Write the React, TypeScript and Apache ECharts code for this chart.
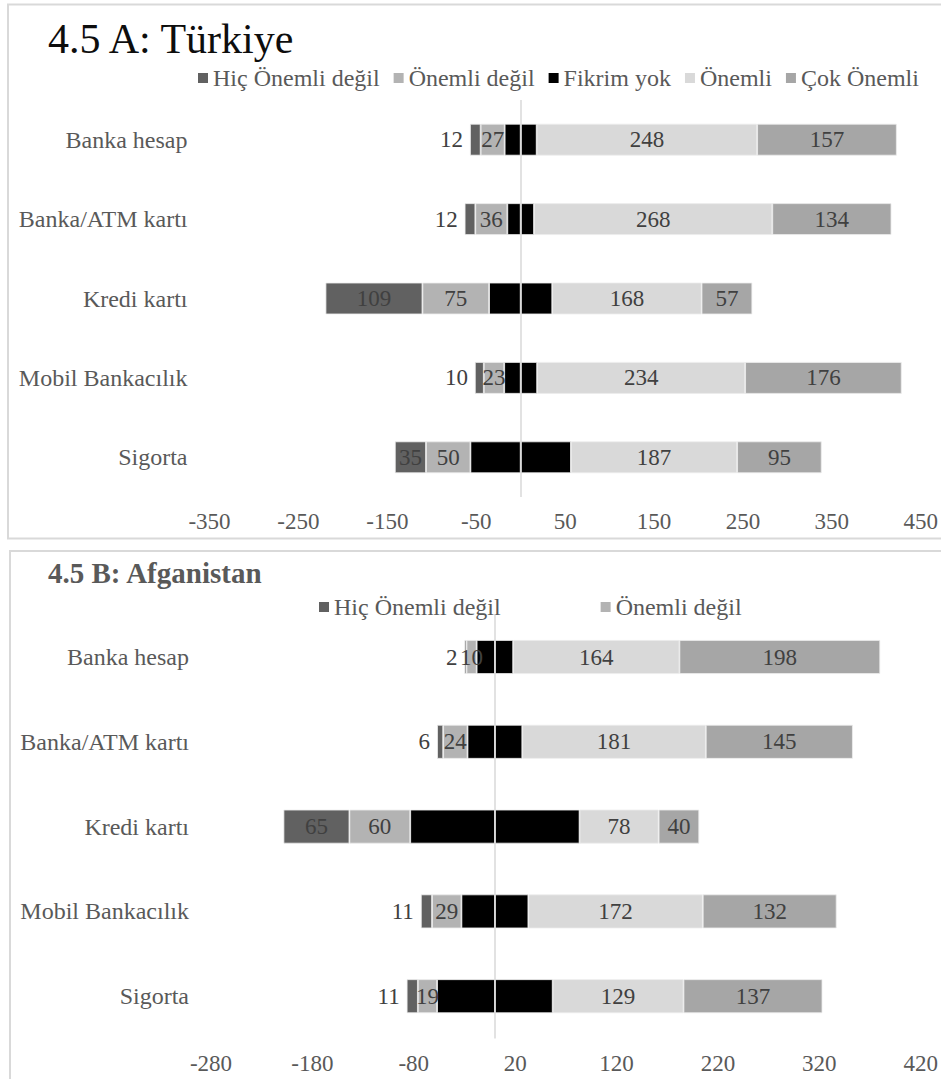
import React, { useEffect, useRef } from "react";
import * as echarts from "echarts";

const categories = ["Banka hesap", "Banka/ATM kartı", "Kredi kartı", "Mobil Bankacılık", "Sigorta"];
const seriesNames = ["Hiç Önemli değil", "Önemli değil", "Fikrim yok", "Önemli", "Çok Önemli"];

// 4.5 A: Türkiye
const trHic = [12, 12, 109, 10, 35];
const trOnemliDegil = [27, 36, 75, 23, 50];
const trFikrimYok = [36, 30, 71, 37, 113];
const trOnemli = [248, 268, 168, 234, 187];
const trCokOnemli = [157, 134, 57, 176, 95];

// 4.5 B: Afganistan
const afHic = [2, 6, 65, 11, 11];
const afOnemliDegil = [10, 24, 60, 29, 19];
const afFikrimYok = [36, 54, 167, 66, 114];
const afOnemli = [164, 181, 78, 172, 129];
const afCokOnemli = [198, 145, 40, 132, 137];

const ticksA = [-350, -250, -150, -50, 50, 150, 250, 350, 450];
const ticksB = [-280, -180, -80, 20, 120, 220, 320, 420];

const COLORS = {
  hic: "#616161",
  od: "#b3b3b3",
  fy: "#000000",
  o: "#d9d9d9",
  co: "#a6a6a6",
};

const FONT = "Liberation Serif";
const txt = (size: number, color: string, weight: string = "normal") => ({
  fontSize: size,
  color,
  fontFamily: FONT,
  fontWeight: weight,
  fontStyle: "normal",
});

const labelBase = {
  show: true,
  position: "inside",
  ...txt(23, "#404040"),
  formatter: (p: any) => String(Math.abs(p.value)),
};

const barBorder = { borderColor: "#ececec", borderWidth: 0.8 };

function buildSeries(idx: number, hic: number[], od: number[], fy: number[], o: number[], co: number[]) {
  const common = {
    type: "bar",
    stack: "s" + idx,
    xAxisIndex: idx,
    yAxisIndex: idx,
    barWidth: "40%",
  };
  return [
    {
      ...common,
      name: "Fikrim yok",
      itemStyle: { color: COLORS.fy, ...barBorder },
      data: fy.map((v) => -v / 2),
      label: { show: false },
    },
    {
      ...common,
      name: "Fikrim yok",
      itemStyle: { color: COLORS.fy, ...barBorder },
      data: fy.map((v) => v / 2),
      label: { show: false },
      markLine: {
        silent: true,
        symbol: "none",
        label: { show: false },
        lineStyle: { color: "#d9d9d9", width: 1.5, type: "solid" },
        data: [{ xAxis: 0 }],
      },
    },
    {
      ...common,
      name: "Önemli değil",
      itemStyle: { color: COLORS.od, ...barBorder },
      data: od.map((v) => -v),
      label: labelBase,
    },
    {
      ...common,
      name: "Önemli",
      itemStyle: { color: COLORS.o, ...barBorder },
      data: o,
      label: labelBase,
    },
    {
      ...common,
      name: "Hiç Önemli değil",
      itemStyle: { color: COLORS.hic, ...barBorder },
      data: hic.map((v) => (v < 20 ? { value: -v, label: { position: "left", distance: 7 } } : -v)),
      label: labelBase,
    },
    {
      ...common,
      name: "Çok Önemli",
      itemStyle: { color: COLORS.co, ...barBorder },
      data: co,
      label: labelBase,
    },
  ];
}

export default function App() {
  const ref = useRef<HTMLDivElement>(null);
  useEffect(() => {
    if (!ref.current) return;
    const chart = echarts.init(ref.current, null, { renderer: "svg" });
    const xAxisCommon = {
      type: "value",
      interval: 100,
      splitLine: { show: false },
      axisLine: { show: false },
      axisTick: { show: false },
    };
    const yAxisCommon = {
      type: "category",
      data: categories,
      inverse: true,
      axisLine: { show: false, onZero: false },
      axisTick: { show: false },
      axisLabel: { ...txt(24, "#595959"), margin: 22 },
    };
    const legendCommon = {
      icon: "rect",
      itemWidth: 10,
      itemHeight: 10,
      itemStyle: { borderWidth: 0 },
      textStyle: txt(24, "#595959"),
    };
    chart.setOption({
      animation: false,
      textStyle: { fontFamily: FONT, fontWeight: "normal" },
      color: [COLORS.hic, COLORS.od, COLORS.fy, COLORS.o, COLORS.co],
      title: [
        {
          text: "4.5 A: Türkiye",
          left: 43,
          top: 13,
          textStyle: txt(42, "#0d0d0d"),
        },
        {
          text: "4.5 B: Afganistan",
          left: 43,
          top: 553,
          textStyle: txt(29, "#595959", "bold"),
        },
      ],
      legend: [
        { ...legendCommon, left: 193, top: 61, itemGap: 14, data: seriesNames },
        { ...legendCommon, left: 314, top: 590, itemGap: 100, data: seriesNames.slice(0, 2) },
      ],
      grid: [
        { left: 209.5, right: 19.5, top: 100, height: 397 },
        { left: 211, right: 19, top: 614.6, height: 424 },
      ],
      xAxis: [
        {
          ...xAxisCommon,
          gridIndex: 0,
          min: ticksA[0],
          max: ticksA[ticksA.length - 1],
          axisLabel: { customValues: ticksA, ...txt(23, "#595959"), margin: 13 },
        },
        {
          ...xAxisCommon,
          gridIndex: 1,
          min: ticksB[0],
          max: ticksB[ticksB.length - 1],
          axisLabel: { customValues: ticksB, ...txt(23, "#595959"), margin: 13 },
        },
      ],
      yAxis: [
        { ...yAxisCommon, gridIndex: 0 },
        { ...yAxisCommon, gridIndex: 1 },
      ],
      graphic: [
        {
          type: "rect",
          silent: true,
          shape: { x: 8, y: 4.5, width: 1000, height: 534 },
          style: { fill: "none", stroke: "#d9d9d9", lineWidth: 2 },
        },
        {
          type: "rect",
          silent: true,
          shape: { x: 10, y: 551, width: 1000, height: 600 },
          style: { fill: "none", stroke: "#d9d9d9", lineWidth: 2 },
        },
      ],
      series: [
        ...buildSeries(0, trHic, trOnemliDegil, trFikrimYok, trOnemli, trCokOnemli),
        ...buildSeries(1, afHic, afOnemliDegil, afFikrimYok, afOnemli, afCokOnemli),
      ],
    });
    return () => chart.dispose();
  }, []);
  return (
    <div
      ref={ref}
      style={{ position: "absolute", left: 0, top: 0, width: 941, height: 1079, background: "#ffffff" }}
    />
  );
}
